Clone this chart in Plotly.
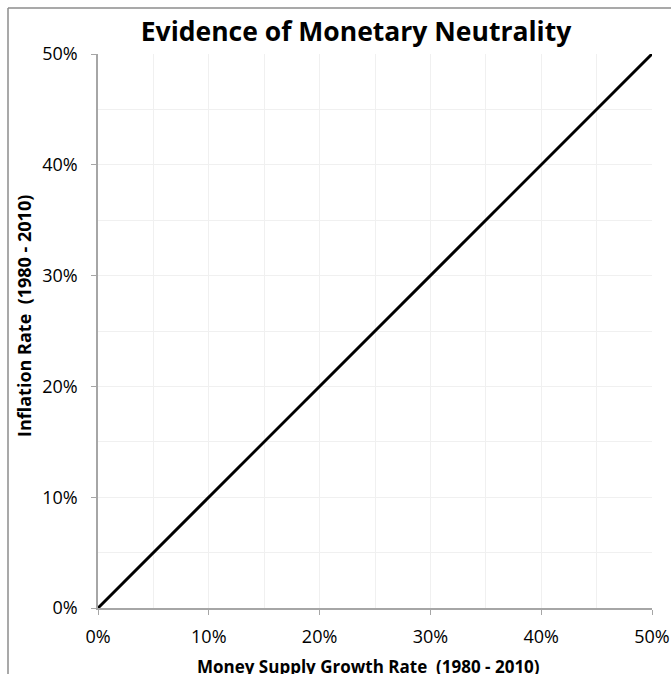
import plotly.graph_objects as go

money_growth = [0.0, 0.5]
inflation = [0.0, 0.5]
tick_vals = [0, 0.1, 0.2, 0.3, 0.4, 0.5]
tick_text = ["0%", "10%", "20%", "30%", "40%", "50%"]

W, H = 671, 674
L, R, T, B = 98, 19, 54, 66
pw = W - L - R
ph = H - T - B

FONT = "Open Sans"


def px_x(px):
    return (px - L) / pw


def px_y(py):
    return (T + ph - py) / ph


fig = go.Figure()
fig.add_trace(go.Scatter(x=money_growth, y=inflation, mode="lines",
                         line=dict(color="black", width=3), showlegend=False,
                         cliponaxis=False, hoverinfo="skip"))

axis_common = dict(
    range=[0, 0.5], tickvals=tick_vals, ticktext=tick_text,
    showgrid=True, gridcolor="#f0f0f0", gridwidth=1,
    minor=dict(dtick=0.05, showgrid=True, gridcolor="#f0f0f0", gridwidth=1, ticks=""),
    showline=True, linecolor="#a6a6a6", linewidth=1.5,
    ticks="outside", ticklen=5, tickcolor="#a6a6a6", tickwidth=1,
    zeroline=False, automargin=False,
    tickfont=dict(family=FONT, size=18, color="black"),
)

fig.update_xaxes(**axis_common, ticklabelstandoff=7)
fig.update_yaxes(**axis_common, ticklabelstandoff=10)

# axis titles
fig.add_annotation(text="<b>Money Supply Growth Rate  (1980 - 2010)</b>",
                   xref="paper", yref="paper", x=px_x(368), y=px_y(666),
                   xanchor="center", yanchor="middle", showarrow=False,
                   font=dict(family=FONT, size=17, color="black"))
fig.add_annotation(text="<b>Inflation Rate  (1980 - 2010)</b>",
                   xref="paper", yref="paper", x=px_x(24), y=px_y(316),
                   xanchor="center", yanchor="middle", showarrow=False, textangle=-90,
                   font=dict(family=FONT, size=18, color="black"))

# outer chart frame (left and top edges visible)
fx0 = px_x(8)
fy1 = px_y(8)
fig.add_shape(type="line", xref="paper", yref="paper",
              x0=fx0, x1=px_x(W + 5), y0=fy1, y1=fy1,
              line=dict(color="#8c8c8c", width=1.5), layer="below")
fig.add_shape(type="line", xref="paper", yref="paper",
              x0=fx0, x1=fx0, y0=px_y(H + 5), y1=fy1,
              line=dict(color="#8c8c8c", width=1.5), layer="below")

fig.update_layout(
    width=W, height=H,
    margin=dict(l=L, r=R, t=T, b=B),
    plot_bgcolor="white", paper_bgcolor="white",
    title=dict(text="<b>Evidence of Monetary Neutrality</b>", x=px_x(356), xref="paper",
               xanchor="center", y=1 - 31.5 / H, yanchor="middle",
               font=dict(family=FONT, size=26.5, color="black")),
)

fig.write_html(
    "out.html",
    config={"displayModeBar": False},
    post_script=("document.documentElement.style.overflow='hidden';"
                 "document.body.style.margin='0';document.body.style.overflow='hidden';"),
)
